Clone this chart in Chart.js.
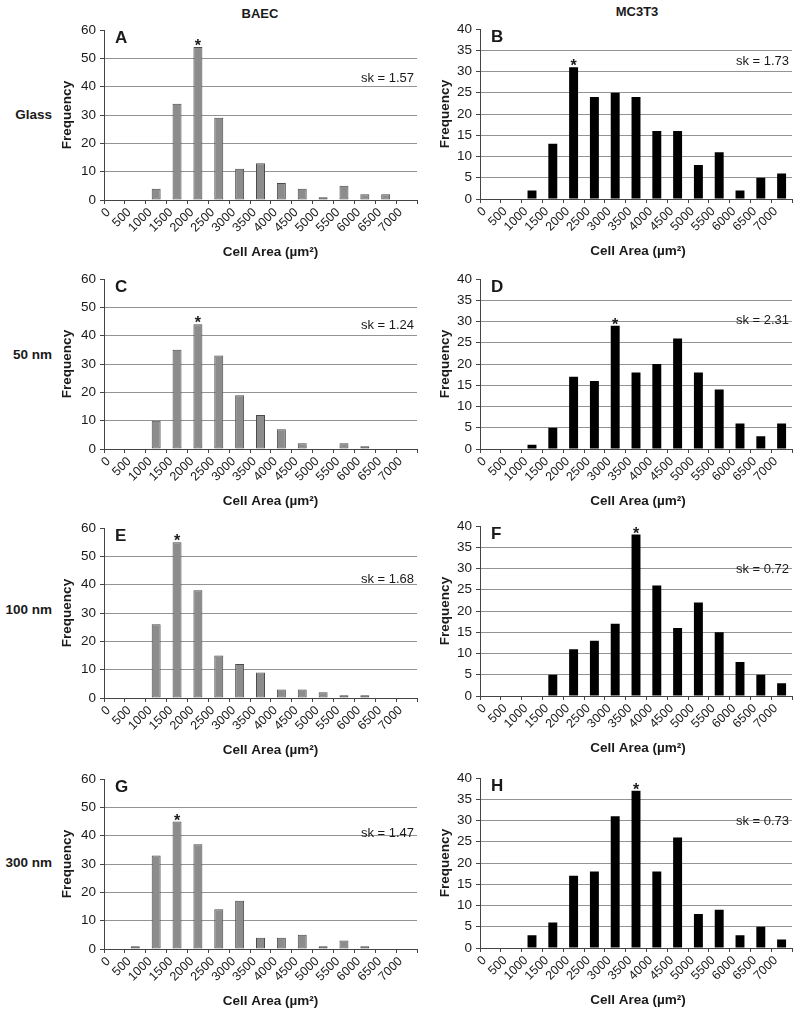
<!DOCTYPE html>
<html>
<head>
<meta charset="utf-8">
<script src="https://cdn.jsdelivr.net/npm/chart.js@4.4.0/dist/chart.umd.min.js"></script>
<style>
  html, body { margin: 0; padding: 0; background: #fff; }
  body { width: 800px; height: 1016px; position: relative; overflow: hidden;
         font-family: 'Liberation Sans', Arial, sans-serif; color: #1a1a1a; }
  canvas { position: absolute; }
  .lbl { position: absolute; font-weight: bold; font-size: 13.5px; line-height: 16px; white-space: nowrap; }
  .row-lbl { left: -8px; width: 60px; text-align: right; }
  .col-lbl { width: 80px; text-align: center; font-size: 13px; }
</style>
</head>
<body>

<div class="lbl col-lbl" style="left:220px; top:6px">BAEC</div>
<div class="lbl col-lbl" style="left:597px; top:4px">MC3T3</div>

<div class="lbl row-lbl" style="top:107px">Glass</div>
<div class="lbl row-lbl" style="top:347px">50 nm</div>
<div class="lbl row-lbl" style="top:602px">100 nm</div>
<div class="lbl row-lbl" style="top:855px">300 nm</div>

<canvas id="pA" width="365" height="250" style="left:55px; top:10px"></canvas>
<canvas id="pB" width="364" height="250" style="left:431px; top:9px"></canvas>
<canvas id="pC" width="365" height="250" style="left:55px; top:259px"></canvas>
<canvas id="pD" width="364" height="250" style="left:431px; top:259px"></canvas>
<canvas id="pE" width="365" height="250" style="left:55px; top:508px"></canvas>
<canvas id="pF" width="364" height="250" style="left:431px; top:506px"></canvas>
<canvas id="pG" width="365" height="250" style="left:55px; top:759px"></canvas>
<canvas id="pH" width="364" height="250" style="left:431px; top:758px"></canvas>

<script>
/* ── DATA ─────────────────────────────────────────────────── */
const binLabels = ['0','500','1000','1500','2000','2500','3000','3500',
                   '4000','4500','5000','5500','6000','6500','7000'];

// BAEC (left column)
const baecGlass = [0,0,4,34,54,29,11,13,6,4,1,5,2,2,0];
const baec50    = [0,0,10,35,44,33,19,12,7,2,0,2,1,0,0];
const baec100   = [0,0,26,55,38,15,12,9,3,3,2,1,1,0,0];
const baec300   = [0,1,33,45,37,14,17,4,4,5,1,3,1,0,0];

// MC3T3 (right column)
const mcGlass = [0,0,2,13,31,24,25,24,16,16,8,11,2,5,6];
const mc50    = [0,0,1,5,17,16,29,18,20,26,18,14,6,3,6];
const mc100   = [0,0,0,5,11,13,17,38,26,16,22,15,8,5,3];
const mc300   = [0,0,3,6,17,18,31,37,18,26,8,9,3,5,2];

const baecSk = ['1.57','1.24','1.68','1.47'];
const mcSk   = ['1.73','2.31','0.72','0.73'];

const baecTicks = [0,10,20,30,40,50,60];
const mcTicks   = [0,5,10,15,20,25,30,35,40];

const FONT = '"Liberation Sans", Arial, sans-serif';

/* ── DECORATION: panel letter, skewness, peak star, x title ── */
const panelDeco = {
  id: 'panelDeco',
  afterDatasetsDraw(chart, args, opts) {
    const { ctx, chartArea: a } = chart;
    const vals = chart.data.datasets[0].data;
    const bars = chart.getDatasetMeta(0).data;
    const peak = vals.indexOf(Math.max(...vals));
    ctx.save();
    ctx.fillStyle = '#1a1a1a';
    ctx.font = 'bold 17px ' + FONT;
    ctx.textAlign = 'left';
    ctx.textBaseline = 'alphabetic';
    ctx.fillText(opts.letter, a.left + 11, a.top + 13);

    ctx.font = '13px ' + FONT;
    ctx.textAlign = 'right';
    ctx.textBaseline = 'middle';
    ctx.fillText('sk = ' + opts.sk, a.right - 3, a.top + opts.skY);

    ctx.font = 'bold 16px ' + FONT;
    ctx.textAlign = 'center';
    ctx.textBaseline = 'alphabetic';
    ctx.fillText('*', bars[peak].x, bars[peak].y + 4);

    // x-axis title (sits a little right of centre in the left column)
    ctx.font = 'bold 13.5px ' + FONT;
    ctx.textBaseline = 'middle';
    ctx.fillText('Cell Area (µm²)', (a.left + a.right) / 2 + opts.titleDx, a.bottom + 52);
    ctx.restore();
  }
};

/* ── PANEL FACTORY ────────────────────────────────────────── */
function makePanel(id, values, letter, sk, left, skY) {
  const ticks = left ? baecTicks : mcTicks;
  const yMax = ticks[ticks.length - 1];
  const step = ticks[1] - ticks[0];
  new Chart(document.getElementById(id), {
    type: 'bar',
    data: {
      labels: binLabels,
      datasets: [{
        data: values,
        backgroundColor: left ? '#8c8c8c' : '#000',
        borderColor: left ? '#4a4a4a' : '#000',
        borderWidth: left ? 1 : 0,
        borderSkipped: false,
        categoryPercentage: 1,
        barPercentage: 0.43,
      }],
    },
    options: {
      responsive: false,
      animation: false,
      events: [],
      layout: { padding: { top: 20, right: 3, left: 0, bottom: 0 } },
      plugins: {
        legend: { display: false },
        tooltip: { enabled: false },
        panelDeco: { letter, sk, skY, titleDx: left ? 10 : 2 },
      },
      scales: {
        x: {
          afterFit: s => { s.height = 60; },
          offset: true,
          border: { color: '#444', width: 1 },
          grid: { offset: true, drawOnChartArea: false, drawTicks: true, tickLength: 4, tickColor: '#444' },
          ticks: {
            autoSkip: false, minRotation: 45, maxRotation: 45, padding: 1, labelOffset: -6,
            color: '#1a1a1a', font: { family: FONT, size: 12.5 },
          },
        },
        y: {
          afterFit: s => { s.width = 49; },
          min: 0, max: yMax,
          border: { color: '#444', width: 1 },
          grid: {
            color: c => c.tick.value === yMax ? 'rgba(0,0,0,0)' : '#939393',
            tickColor: '#444', tickLength: 4,
          },
          ticks: {
            stepSize: step, padding: 4, color: '#1a1a1a',
            font: { family: FONT, size: 13.5 },
          },
          title: {
            display: true, text: 'Frequency', color: '#1a1a1a',
            padding: { top: left ? 4 : 6, bottom: 0 },
            font: { family: FONT, size: 13.5, weight: 'bold' },
          },
        },
      },
    },
    plugins: [panelDeco],
  });
}

makePanel('pA', baecGlass, 'A', baecSk[0], true, 48);
makePanel('pB', mcGlass,   'B', mcSk[0],   false, 32);
makePanel('pC', baec50,    'C', baecSk[1], true, 46);
makePanel('pD', mc50,      'D', mcSk[1],   false, 41);
makePanel('pE', baec100,   'E', baecSk[2], true, 51);
makePanel('pF', mc100,     'F', mcSk[2],   false, 43);
makePanel('pG', baec300,   'G', baecSk[3], true, 54);
makePanel('pH', mc300,     'H', mcSk[3],   false, 43);
</script>
</body>
</html>
